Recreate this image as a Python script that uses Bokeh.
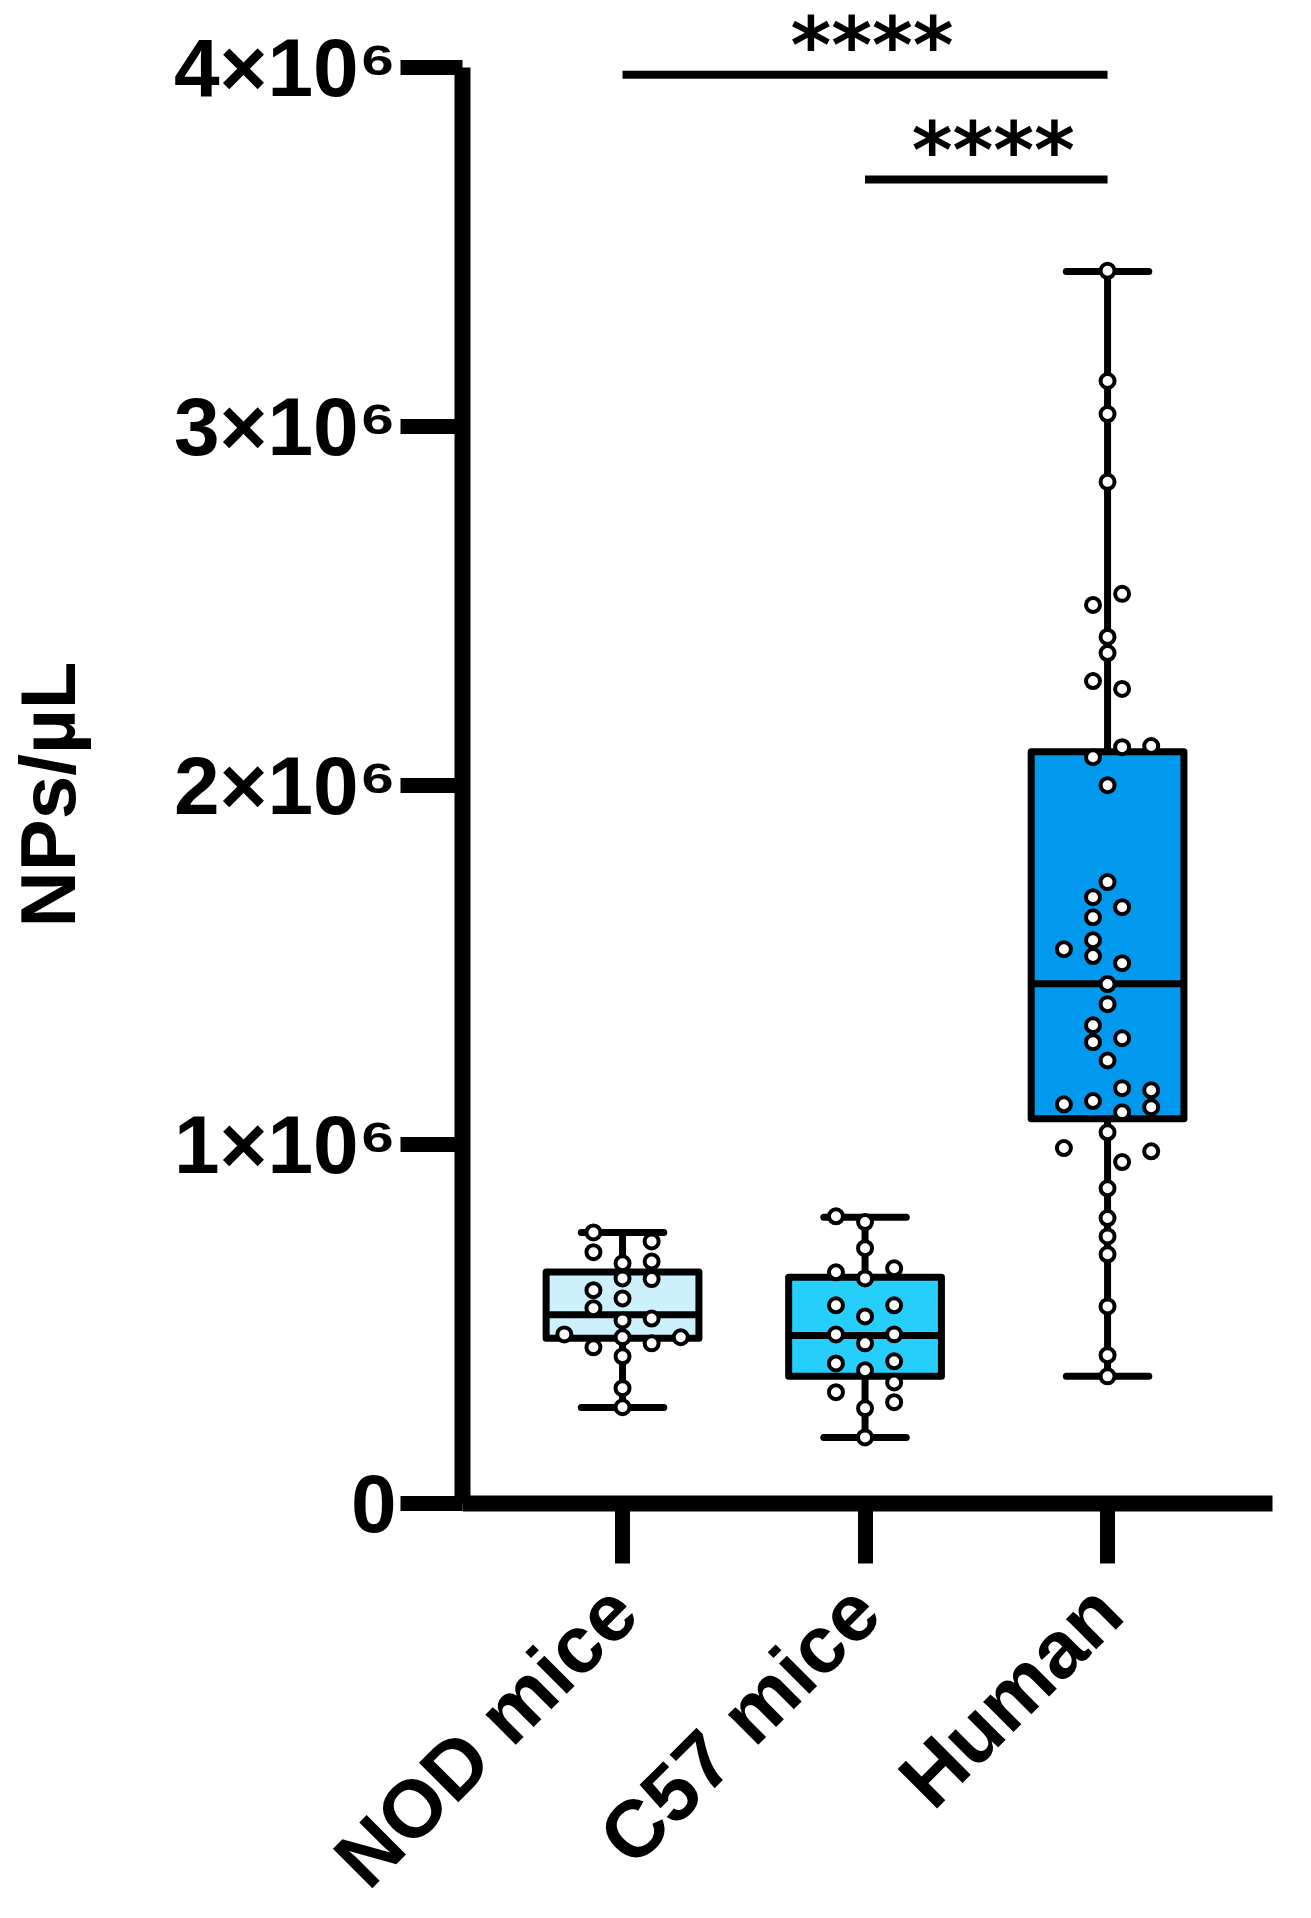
import math
from bokeh.plotting import figure
from bokeh.models import Range1d, FixedTicker, ColumnDataSource, LabelSet
from bokeh.core.properties import value
from bokeh.embed import file_html
from bokeh.resources import INLINE

# ---------------- data ----------------
categories = ["NOD mice", "C57 mice", "Human"]
box_colors = ["#CCF1FD", "#26CFFB", "#0099EE"]

# box statistics, NPs/µL in millions
whisker_min = [0.267, 0.184, 0.354]
q1 = [0.460, 0.354, 1.072]
median = [0.526, 0.468, 1.448]
q3 = [0.645, 0.630, 2.094]
whisker_max = [0.755, 0.797, 3.432]

# individual samples (millions NPs/µL) and their horizontal spread (category units)
nod_values = [0.755, 0.730, 0.700, 0.669, 0.674, 0.627, 0.625, 0.594, 0.571, 0.544,
              0.510, 0.515, 0.471, 0.463, 0.463, 0.435, 0.446, 0.410, 0.321, 0.268]
nod_jitter = [-0.12, 0.12, -0.12, 0.0, 0.12, 0.0, 0.12, -0.12, 0.0, -0.12,
              0.0, 0.12, -0.24, 0.0, 0.24, -0.12, 0.12, 0.0, 0.0, 0.0]

c57_values = [0.800, 0.784, 0.711, 0.644, 0.655, 0.627, 0.552, 0.552, 0.521, 0.471,
              0.471, 0.446, 0.390, 0.396, 0.371, 0.337, 0.310, 0.282, 0.265, 0.184]
c57_jitter = [-0.12, 0.0, 0.0, -0.12, 0.12, 0.0, -0.12, 0.12, 0.0, -0.12,
              0.12, 0.0, -0.12, 0.12, 0.0, 0.12, -0.12, 0.12, 0.0, 0.0]

human_values = [3.434, 3.127, 3.035, 2.846, 2.534, 2.503, 2.414, 2.369, 2.291, 2.269,
                2.107, 2.110, 2.079, 2.001, 1.731, 1.689, 1.661, 1.633, 1.569, 1.544,
                1.525, 1.505, 1.447, 1.391, 1.332, 1.296, 1.285, 1.234, 1.157, 1.151,
                1.112, 1.121, 1.104, 1.090, 1.034, 0.990, 0.981, 0.951, 0.878, 0.795,
                0.744, 0.694, 0.549, 0.413, 0.354]
human_jitter = [0.0, 0.0, 0.0, 0.0, 0.06, -0.06, 0.0, 0.0, -0.06, 0.06,
                0.06, 0.18, -0.06, 0.0, 0.0, -0.06, 0.06, -0.06, -0.06, -0.18,
                -0.06, 0.06, 0.0, 0.0, -0.06, 0.06, -0.06, 0.0, 0.06, 0.18,
                -0.18, -0.06, 0.18, 0.06, 0.0, -0.18, 0.18, 0.06, 0.0, 0.0,
                0.0, 0.0, 0.0, 0.0, 0.0]

# significance comparisons
sig_from = [0, 1]
sig_to = [2, 2]
sig_level = [3.98, 3.688]
sig_text = ["****", "****"]

y_ticks = [0, 1, 2, 3, 4]
y_tick_labels = ["0", "1×10⁶", "2×10⁶", "3×10⁶", "4×10⁶"]
y_label = "NPs/µL"

# ---------------- layout (category units / millions) ----------------
M = 1e6
FONT = "Liberation Sans"
STAR_FONT = "DejaVu Sans"
X_VIEW = (-2.565, 2.775)      # whole canvas, categories at 0, 1, 2
Y_VIEW = (-1.134, 4.187)      # whole canvas, value axis in millions
AXIS_X = -0.66                # where the value axis stands
AXIS_END = 2.68               # right end of the category axis
Y_TITLE_X, Y_TITLE_Y = -2.371, 1.975

p = figure(width=1295, height=1910, output_backend="svg", toolbar_location=None,
           x_range=Range1d(*X_VIEW), y_range=Range1d(Y_VIEW[0] * M, Y_VIEW[1] * M),
           min_border_left=0, min_border_right=0, min_border_top=0,
           min_border_bottom=0)
p.outline_line_color = None
p.xgrid.visible = False
p.ygrid.visible = False
p.background_fill_color = "white"
p.border_fill_color = "white"

pos = list(range(len(categories)))
box_w = 0.63
cap_w = 0.34
LW = 7

# whiskers
p.segment(x0=pos, y0=[v * M for v in whisker_min], x1=pos, y1=[v * M for v in q1],
          line_color="black", line_width=LW)
p.segment(x0=pos, y0=[v * M for v in q3], x1=pos, y1=[v * M for v in whisker_max],
          line_color="black", line_width=LW)
# caps
p.segment(x0=[x - cap_w / 2 for x in pos], y0=[v * M for v in whisker_min],
          x1=[x + cap_w / 2 for x in pos], y1=[v * M for v in whisker_min],
          line_color="black", line_width=LW, line_cap="round")
p.segment(x0=[x - cap_w / 2 for x in pos], y0=[v * M for v in whisker_max],
          x1=[x + cap_w / 2 for x in pos], y1=[v * M for v in whisker_max],
          line_color="black", line_width=LW, line_cap="round")
# boxes
p.quad(left=[x - box_w / 2 for x in pos], right=[x + box_w / 2 for x in pos],
       bottom=[v * M for v in q1], top=[v * M for v in q3],
       fill_color=box_colors, line_color="black", line_width=LW, line_join="round")
# medians
p.segment(x0=[x - box_w / 2 for x in pos], y0=[v * M for v in median],
          x1=[x + box_w / 2 for x in pos], y1=[v * M for v in median],
          line_color="black", line_width=LW)

# points
groups = [(nod_values, nod_jitter), (c57_values, c57_jitter), (human_values, human_jitter)]
for i, (vals, jit) in enumerate(groups):
    src = ColumnDataSource(dict(x=[i + j for j in jit], y=[v * M for v in vals]))
    p.scatter(x="x", y="y", source=src, marker="circle", size=14,
              fill_color="white", line_color="black", line_width=4)

# significance bars and stars
p.segment(x0=sig_from, y0=[v * M for v in sig_level], x1=sig_to,
          y1=[v * M for v in sig_level], line_color="black", line_width=8)
sig_src = ColumnDataSource(dict(x=[(a + b) / 2 for a, b in zip(sig_from, sig_to)],
                                y=[v * M for v in sig_level], text=sig_text))
p.add_layout(LabelSet(x="x", y="y", text="text", source=sig_src,
                      text_font=value(STAR_FONT), text_font_style="bold",
                      text_font_size="78px", text_align="center",
                      text_baseline="alphabetic", x_offset=7, y_offset=2,
                      text_color="black"))

# y axis title
p.text(x=[Y_TITLE_X], y=[Y_TITLE_Y * M], text=[y_label], angle=math.pi / 2,
       text_font=value(FONT), text_font_style="bold", text_font_size="78px",
       text_align="center", text_baseline="alphabetic", text_color="black")

# ---------------- axes ----------------
ya = p.yaxis[0]
ya.fixed_location = AXIS_X
ya.ticker = FixedTicker(ticks=[t * M for t in y_ticks])
ya.major_label_overrides = {int(t * M): lab for t, lab in zip(y_ticks, y_tick_labels)}
ya.bounds = (0, y_ticks[-1] * M)
ya.axis_line_width = 16
ya.axis_line_color = "black"
ya.major_tick_line_width = 15
ya.major_tick_out = 62
ya.major_tick_in = 0
ya.minor_tick_out = 0
ya.minor_tick_in = 0
ya.major_label_standoff = 4
ya.major_label_text_font = FONT
ya.major_label_text_font_style = "bold"
ya.major_label_text_font_size = "82px"
ya.major_label_text_color = "black"

xa = p.xaxis[0]
xa.fixed_location = 0
xa.ticker = FixedTicker(ticks=pos)
xa.major_label_overrides = {i: c for i, c in enumerate(categories)}
xa.bounds = (AXIS_X, AXIS_END)
xa.axis_line_width = 16
xa.axis_line_color = "black"
xa.major_tick_line_width = 15
xa.major_tick_out = 60
xa.major_tick_in = 0
xa.minor_tick_out = 0
xa.minor_tick_in = 0
xa.major_label_orientation = math.pi / 4
xa.major_label_standoff = 35
xa.major_label_text_font = FONT
xa.major_label_text_font_style = "bold"
xa.major_label_text_font_size = "81px"
xa.major_label_text_color = "black"

open("out.html", "w").write(file_html(p, INLINE))
